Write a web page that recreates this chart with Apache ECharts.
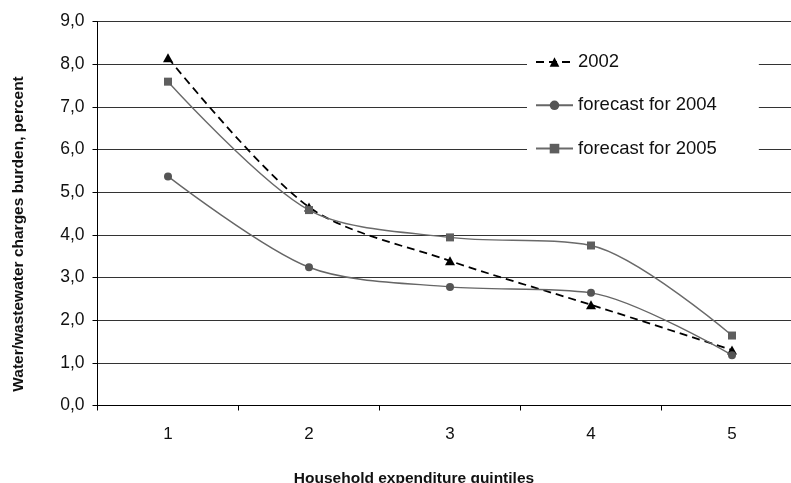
<!DOCTYPE html>
<html>
<head>
<meta charset="utf-8">
<script src="https://cdn.jsdelivr.net/npm/echarts@6/dist/echarts.min.js"></script>
<style>
  html, body { margin: 0; padding: 0; background: #fff; overflow: hidden; width: 791px; height: 483px; }
  /* the plot area runs slightly past the right edge of the page */
  #chart { width: 803px; height: 483px; }
</style>
</head>
<body>
<div id="chart"></div>
<script>
// Household expenditure quintiles
const quintiles = ['1', '2', '3', '4', '5'];

// Water/wastewater charges burden, percent
const burden2002 = [8.15, 4.65, 3.39, 2.36, 1.30];
const forecast2004 = [5.37, 3.24, 2.78, 2.64, 1.18];
const forecast2005 = [7.59, 4.58, 3.94, 3.75, 1.64];

const seriesNames = ['2002', 'forecast for 2004', 'forecast for 2005'];
const yTickLabels = ['0,0', '1,0', '2,0', '3,0', '4,0', '5,0', '6,0', '7,0', '8,0', '9,0'];

const FONT = '"Liberation Sans", Arial, Helvetica, sans-serif';
const chart = echarts.init(document.getElementById('chart'), null, { renderer: 'canvas' });

chart.setOption({
  animation: false,
  backgroundColor: '#fff',
  grid: { left: 97.5, right: 0.5, top: 21.5, bottom: 77.5, containLabel: false },
  legend: {
    orient: 'vertical',
    left: 527,
    top: 38,
    data: seriesNames,
    backgroundColor: '#fff',
    padding: [14, 42, 12, 8],
    itemWidth: 37,
    itemHeight: 12,
    itemGap: 23.3,
    textStyle: { fontFamily: FONT, fontSize: 18.5, color: '#111', lineHeight: 20 }
  },
  xAxis: {
    type: 'category',
    data: quintiles,
    boundaryGap: true,
    axisLine: { lineStyle: { color: '#000', width: 1 } },
    axisTick: { show: true, length: 5, inside: false, lineStyle: { color: '#000' } },
    axisLabel: { fontFamily: FONT, fontSize: 17, color: '#111', margin: 20 },
    splitLine: { show: false }
  },
  yAxis: {
    type: 'value',
    min: 0,
    max: 9,
    interval: 1,
    axisLine: { show: true, lineStyle: { color: '#000', width: 1 } },
    axisTick: { show: true, length: 5, lineStyle: { color: '#000' } },
    axisLabel: {
      fontFamily: FONT, fontSize: 17.5, color: '#111', margin: 13,
      formatter: function (v) { return yTickLabels[Math.round(v)]; }
    },
    splitLine: { show: true, lineStyle: { color: '#333', width: 1 } }
  },
  series: [
    {
      name: seriesNames[0],
      type: 'line',
      data: burden2002,
      smooth: 0.3,
      symbol: 'triangle',
      symbolSize: [10, 9],
      itemStyle: { color: '#000' },
      lineStyle: { color: '#000', width: 1.8, type: [8, 5] },
      z: 3
    },
    {
      name: seriesNames[1],
      type: 'line',
      data: forecast2004,
      smooth: 0.3,
      symbol: 'circle',
      symbolSize: 8,
      itemStyle: { color: '#555' },
      lineStyle: { color: '#666', width: 1.4 },
      z: 4
    },
    {
      name: seriesNames[2],
      type: 'line',
      data: forecast2005,
      smooth: 0.3,
      symbol: 'rect',
      symbolSize: 8,
      itemStyle: { color: '#5e5e5e' },
      lineStyle: { color: '#6a6a6a', width: 1.4 },
      z: 5
    }
  ],
  graphic: [
    {
      type: 'text',
      x: 414, y: 479,
      style: {
        text: 'Household expenditure quintiles',
        font: 'bold 15.5px ' + FONT,
        fill: '#111',
        align: 'center',
        verticalAlign: 'middle'
      }
    },
    {
      type: 'text',
      x: 19, y: 234,
      rotation: Math.PI / 2,
      style: {
        text: 'Water/wastewater charges burden, percent',
        font: 'bold 15.5px ' + FONT,
        fill: '#111',
        align: 'center',
        verticalAlign: 'middle'
      }
    }
  ]
});
</script>
</body>
</html>
